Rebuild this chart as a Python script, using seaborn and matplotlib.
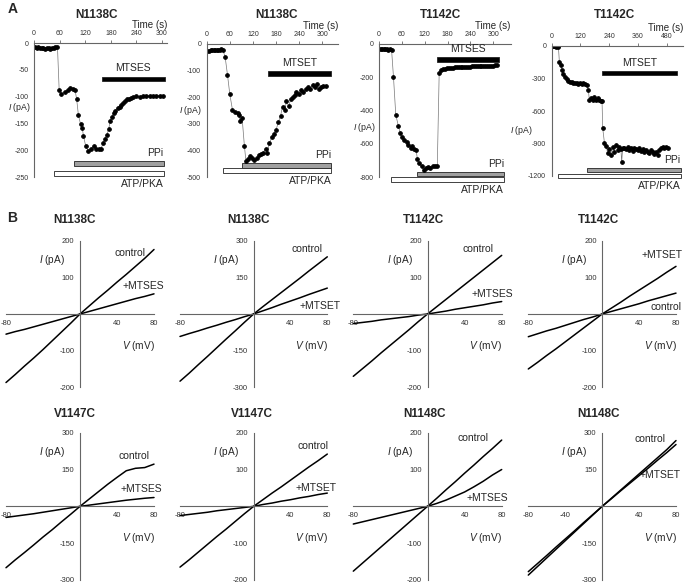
import matplotlib
matplotlib.use('Agg')
import matplotlib.pyplot as plt
import seaborn as sns

sns.set_style('white')
plt.rcParams['font.family'] = ['Liberation Sans', 'DejaVu Sans']
plt.rcParams['mathtext.fontset'] = 'custom'
plt.rcParams['mathtext.rm'] = 'Liberation Sans'
plt.rcParams['mathtext.it'] = 'Liberation Sans:italic'
plt.rcParams['axes.unicode_minus'] = False

W, H = 685, 584
AXIS_C = '#666666'
TICK_C = '#333333'

# ---------------- panel A: time courses ----------------
a_titles = ['N1138C', 'N1138C', 'T1142C', 'T1142C']
a_drugs = ['MTSES', 'MTSET', 'MTSES', 'MTSET']

a1_t = [2, 6, 10, 14, 18, 22, 26, 30, 34, 38, 42, 46, 50, 55, 59, 64, 72, 80, 85, 91,
        96, 100, 104, 109, 113, 116, 121, 127, 133, 140, 146, 152, 157, 162, 166, 171, 175, 179, 183, 187,
        191, 196, 201, 205, 209, 213, 218, 223, 227, 232, 240, 248, 255, 263, 271, 279, 287, 295, 302]
a1_i = [-8, -9, -8, -10, -9, -10, -11, -9, -10, -11, -9, -10, -8, -7, -88, -95, -92, -87, -84, -85,
        -87, -105, -134, -151, -159, -173, -192, -201, -198, -192, -197, -198, -197, -187, -180, -171, -160, -146, -138, -131,
        -126, -122, -119, -116, -112, -109, -105, -104, -102, -100, -99, -100, -99, -98, -99, -99, -99, -98, -99]

a2_t = [2, 6, 10, 14, 18, 22, 26, 30, 34, 38, 42, 48, 54, 60, 67, 73, 80, 84, 86, 92,
        98, 102, 107, 112, 118, 124, 130, 136, 141, 147, 153, 157, 163, 169, 175, 180, 186, 192, 197, 203,
        207, 213, 218, 223, 229, 233, 239, 245, 251, 258, 264, 268, 275, 281, 287, 291, 297, 303, 311]
a2_i = [-25, -25, -24, -24, -23, -22, -22, -21, -21, -20, -22, -50, -116, -189, -248, -255, -260, -266, -288, -278,
        -385, -441, -433, -422, -429, -435, -429, -419, -412, -408, -393, -408, -373, -350, -338, -323, -295, -269, -235, -248,
        -216, -233, -208, -198, -191, -179, -188, -173, -179, -170, -160, -168, -154, -160, -150, -170, -160, -158, -158]

a3_t = [0, 4, 8, 12, 16, 20, 24, 28, 33, 38, 44, 51, 56, 61, 66, 73, 77, 83, 87, 92,
        97, 101, 106, 112, 118, 123, 128, 134, 141, 147, 153, 158, 164, 169, 174, 179, 184, 189, 194, 199,
        204, 209, 214, 219, 224, 229, 234, 239, 244, 249, 254, 259, 264, 269, 274, 279, 284, 289, 294, 299,
        304, 309]
a3_i = [-30, -32, -33, -31, -33, -32, -34, -32, -35, -198, -425, -495, -535, -559, -575, -591, -605, -625, -615, -630,
        -636, -692, -716, -736, -756, -746, -740, -746, -736, -736, -736, -172, -157, -151, -148, -146, -145, -143, -142, -141,
        -140, -140, -139, -138, -138, -137, -137, -136, -135, -135, -134, -134, -133, -133, -132, -132, -131, -131, -130, -130,
        -129, -129]

a4_t = [0, 5, 10, 15, 20, 25, 28, 32, 38, 42, 49, 56, 63, 70, 76, 83, 90, 97, 104, 111,
        118, 125, 132, 139, 146, 153, 157, 164, 171, 178, 185, 192, 199, 206, 210, 213, 220, 227, 234, 241,
        248, 255, 261, 268, 275, 282, 289, 292, 296, 303, 310, 317, 324, 331, 338, 345, 352, 359, 366, 373,
        380, 387, 394, 401, 408, 415, 421, 428, 435, 442, 449, 456, 463, 470, 477, 484]
a4_i = [-3, -4, -3, -4, -5, -4, -8, -145, -175, -222, -258, -289, -308, -320, -329, -329, -338, -345, -338, -351,
        -345, -351, -345, -354, -360, -406, -498, -483, -498, -468, -498, -483, -498, -505, -505, -760, -892, -923, -991, -954,
        -1006, -929, -975, -914, -960, -929, -954, -1074, -945, -945, -954, -929, -960, -945, -966, -945, -954, -960, -945, -966,
        -948, -975, -960, -975, -991, -960, -980, -997, -975, -1006, -960, -945, -930, -945, -935, -940]

# drug application bars: (start, end) in s and level in pA
a1_bars = {'drug': (159, 306, -67), 'PPi': (93, 304, -225), 'ATP/PKA': (47, 305, -244)}
a2_bars = {'drug': (160, 322, -110), 'PPi': (91, 324, -456), 'ATP/PKA': (43, 324, -476)}
a3_bars = {'drug': (151, 316, -92), 'PPi': (101, 328, -782), 'ATP/PKA': (31, 328, -816)}
a4_bars = {'drug': (211, 522, -250), 'PPi': (149, 538, -1146), 'ATP/PKA': (28, 538, -1200)}

a1_xticks = [0, 60, 120, 180, 240, 300]
a1_yticks = [0, -50, -100, -150, -200, -250]
a2_yticks = [0, -100, -200, -300, -400, -500]
a3_yticks = [0, -200, -400, -600, -800]
a4_xticks = [0, 120, 240, 360, 480]
a4_yticks = [0, -300, -600, -900, -1200]

# ---------------- panel B: I-V relations ----------------
v_mv = [-80, -70, -60, -50, -40, -30, -20, -10, 0, 10, 20, 30, 40, 50, 60, 70, 80]

b1_ctrl = [-187, -165, -142, -120, -97, -73, -49, -25, 0, 22, 44, 65, 87, 108, 130, 152, 176]
b1_mts = [-55, -48, -42, -35, -28, -21, -14, -7, 0, 7, 14, 21, 28, 35, 42, 48, 55]
b2_ctrl = [-275, -242, -207, -173, -138, -103, -69, -34, 0, 30, 59, 88, 117, 146, 176, 205, 234]
b2_mts = [-92, -80, -69, -57, -46, -34, -23, -11, 0, 13, 26, 40, 53, 66, 80, 93, 106]
b3_ctrl = [-170, -149, -128, -106, -85, -64, -43, -21, 0, 20, 40, 60, 80, 100, 120, 140, 160]
b3_mts = [-26, -23, -20, -16, -13, -10, -7, -3, 0, 4, 8, 13, 17, 21, 25, 30, 34]
b4_ctrl = [-62, -54, -46, -39, -31, -23, -15, -8, 0, 7, 14, 21, 28, 36, 43, 50, 57]
b4_mts = [-150, -132, -113, -95, -76, -57, -38, -19, 0, 16, 32, 49, 65, 81, 97, 114, 130]
b5_ctrl = [-250, -218, -188, -157, -125, -95, -63, -32, 0, 30, 60, 90, 118, 145, 155, 158, 172]
b5_mts = [-45, -40, -35, -30, -24, -18, -12, -6, 0, 5, 10, 15, 20, 25, 29, 33, 36]
b6_ctrl = [-165, -145, -124, -103, -82, -62, -41, -20, 0, 18, 36, 53, 71, 89, 107, 124, 142]
b6_mts = [-25, -22, -19, -16, -12, -9, -6, -3, 0, 5, 9, 14, 18, 23, 27, 32, 36]
b7_ctrl = [-176, -154, -132, -110, -88, -66, -44, -22, 0, 22, 45, 67, 90, 112, 135, 157, 180]
b7_mts = [-48, -42, -36, -30, -24, -18, -12, -6, 0, 8, 17, 28, 39, 53, 68, 85, 100]
b8_ctrl = [-280, -245, -210, -175, -140, -105, -70, -35, 0, 33, 66, 99, 132, 165, 198, 231, 268]
b8_mts = [-266, -233, -200, -166, -133, -100, -66, -33, 0, 31, 63, 94, 125, 156, 188, 219, 252]

b_titles = ['N1138C', 'N1138C', 'T1142C', 'T1142C', 'V1147C', 'V1147C', 'N1148C', 'N1148C']
b_drugs = ['+MTSES', '+MTSET', '+MTSES', '+MTSET', '+MTSES', '+MTSET', '+MTSES', '+MTSET']
b_ctrl = [b1_ctrl, b2_ctrl, b3_ctrl, b4_ctrl, b5_ctrl, b6_ctrl, b7_ctrl, b8_ctrl]
b_mts = [b1_mts, b2_mts, b3_mts, b4_mts, b5_mts, b6_mts, b7_mts, b8_mts]
b_ymax = [200, 300, 200, 200, 300, 200, 200, 300]


def px_axes(fig, x0, x1, y0, y1):
    return fig.add_axes([x0 / W, 1 - y1 / H, (x1 - x0) / W, (y1 - y0) / H])


fig = plt.figure(figsize=(W / 100, H / 100), dpi=100)

# ---- layout of panel A ----
a_rects = [(34, 167, 43, 177), (206.7, 338, 44, 177), (379, 510.7, 44, 177), (551.7, 683, 46, 176)]
a_xmax = [311.7, 341, 345.7, 548]
a_title_x = [97, 277, 440, 615]
a_ylab_frac = [0.485, 0.5, 0.627, 0.65]   # fraction of the height below the top
a_ylab_dx = [-3, -5, -3.3, -19]            # px left of the y axis

a_data = [(a1_t, a1_i, a1_bars, a1_xticks, a1_yticks),
          (a2_t, a2_i, a2_bars, a1_xticks, a2_yticks),
          (a3_t, a3_i, a3_bars, a1_xticks, a3_yticks),
          (a4_t, a4_i, a4_bars, a4_xticks, a4_yticks)]

for k, (t, cur, bars, xt, yt) in enumerate(a_data):
    x0, x1, y0, y1 = a_rects[k]
    ax = px_axes(fig, x0, x1, y0, y1)
    sns.lineplot(x=t, y=cur, ax=ax, color='#777777', lw=0.5, marker='o', markersize=2.6,
                 markerfacecolor='k', markeredgecolor='k', estimator=None, sort=False)
    ymin = yt[-1]
    ax.set_xlim(0, a_xmax[k])
    ax.set_ylim(ymin, 0)
    for s in ['bottom', 'right']:
        ax.spines[s].set_visible(False)
    for s in ['top', 'left']:
        ax.spines[s].set_color(AXIS_C)
        ax.spines[s].set_linewidth(0.8)
    ax.xaxis.tick_top()
    ax.set_xticks(xt)
    ax.set_yticks(yt)
    ax.tick_params(axis='both', labelsize=5, length=2.5, width=0.6, color=AXIS_C,
                   labelcolor=TICK_C, pad=1.5)
    ax.set_xlabel('')
    ax.set_ylabel('')
    ax.text(1.0, 1 + 18 / (y1 - y0), 'Time (s)', transform=ax.transAxes, ha='right',
            va='center', fontsize=7)
    ax.text(a_ylab_dx[k] / (x1 - x0), 1 - a_ylab_frac[k], '$I$ (pA)', transform=ax.transAxes,
            ha='right', va='center', fontsize=6.3)

    bh = 0.035 * (-ymin)
    colors = {'drug': 'k', 'PPi': '#a0a0a0', 'ATP/PKA': 'white'}
    for name, (st, en, lev) in bars.items():
        ax.barh(y=lev, width=en - st, left=st, height=bh, color=colors[name],
                edgecolor='#222222', linewidth=0.6, clip_on=False)
    st, en, lev = bars['drug']
    ax.annotate(a_drugs[k], xy=((st + en) / 2, lev), xytext=(0, 7.5), textcoords='offset points',
                ha='center', va='center', fontsize=7.5, annotation_clip=False)
    st, en, lev = bars['PPi']
    ax.annotate('PPi', xy=(en, lev), xytext=(0, 7.5), textcoords='offset points',
                ha='right', va='center', fontsize=7.5, annotation_clip=False)
    st, en, lev = bars['ATP/PKA']
    ax.annotate('ATP/PKA', xy=(en, lev), xytext=(0, -7.5), textcoords='offset points',
                ha='right', va='center', fontsize=7.5, annotation_clip=False)
    fig.text(a_title_x[k] / W, 1 - 15 / H, a_titles[k], ha='center', va='center',
             fontsize=8.5, fontweight='bold')

# ---- layout of panel B ----
b_cols = [(6, 154), (180, 327.3), (353.3, 501.7), (528.3, 676)]
b_rows = [(240.7, 387.3), (432.7, 580)]
b_title_xy = [(75, 220), (248, 220), (423, 220), (598, 220),
              (75, 414), (252, 414), (425, 414), (598, 414)]
# label centres in (mV, fraction of ymax)
b_ctrl_pos = [(54, 0.83), (58, 0.88), (54, 0.88), (69, 0.09),
              (58, 0.69), (65, 0.82), (49, 0.93), (52, 0.92)]
b_mts_pos = [(68, 0.385), (72, 0.11), (70, 0.27), (65, 0.8),
             (66, 0.23), (68, 0.25), (65, 0.115), (63, 0.43)]

for k in range(8):
    x0, x1 = b_cols[k % 4]
    y0, y1 = b_rows[k // 4]
    ax = px_axes(fig, x0, x1, y0, y1)
    ymax = b_ymax[k]
    for cur in (b_ctrl[k], b_mts[k]):
        sns.lineplot(x=v_mv, y=cur, ax=ax, color='k', lw=1.1, estimator=None, clip_on=False)
    ax.set_xlim(-80, 80)
    ax.set_ylim(-ymax, ymax)
    ax.spines['left'].set_position(('data', 0))
    ax.spines['bottom'].set_position(('data', 0))
    for s in ['top', 'right']:
        ax.spines[s].set_visible(False)
    for s in ['left', 'bottom']:
        ax.spines[s].set_color(AXIS_C)
        ax.spines[s].set_linewidth(0.8)
    ax.set_xticks([-80, -60, -40, -20, 20, 40, 60, 80])
    if k == 7:
        ax.set_xticklabels(['-80', '', '-40', '', '', '40', '', '80'])
    else:
        ax.set_xticklabels(['-80', '', '', '', '', '40', '', '80'])
    ax.set_yticks([ymax, ymax / 2, -ymax / 2, -ymax])
    ax.set_yticklabels([str(ymax), str(ymax // 2), str(-ymax // 2), str(-ymax)])
    ax.tick_params(axis='both', labelsize=5.5, length=2.5, width=0.6, color=AXIS_C,
                   labelcolor=TICK_C, pad=1.5)
    ax.set_xlabel('')
    ax.set_ylabel('')
    ax.text(-30, 0.74 * ymax, '$I$ (pA)', ha='center', va='center', fontsize=7.3)
    ax.text(63, -0.43 * ymax, '$V$ (mV)', ha='center', va='center', fontsize=7.3)
    cx, cy = b_ctrl_pos[k]
    ax.text(cx, cy * ymax, 'control', ha='center', va='center', fontsize=7.5)
    mx, my = b_mts_pos[k]
    ax.text(mx, my * ymax, b_drugs[k], ha='center', va='center', fontsize=7.5)
    tx, ty = b_title_xy[k]
    fig.text(tx / W, 1 - ty / H, b_titles[k], ha='center', va='center', fontsize=8.5,
             fontweight='bold')

fig.text(8 / W, 1 - 9 / H, 'A', ha='left', va='center', fontsize=10, fontweight='bold')
fig.text(7 / W, 1 - 218 / H, 'B', ha='left', va='center', fontsize=10, fontweight='bold')

fig.savefig('out.png', dpi=100, facecolor='white')
